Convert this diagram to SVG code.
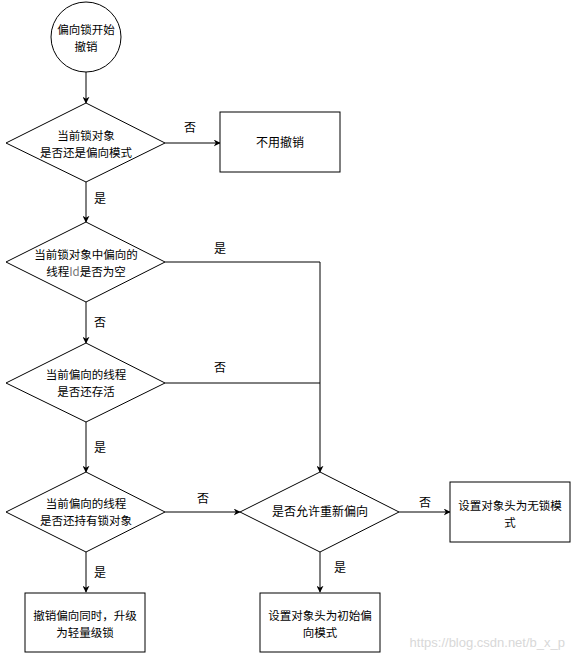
<svg xmlns="http://www.w3.org/2000/svg" width="575" height="660" viewBox="0 0 575 660">
<defs>
<marker id="arr" viewBox="0 0 10 10" refX="9" refY="5" markerWidth="7" markerHeight="7" markerUnits="userSpaceOnUse" orient="auto">
<path d="M0,0 L10,5 L0,10 L3,5 Z" fill="#000"/>
</marker>
</defs>
<style>
.s{fill:#fff;stroke:#000;stroke-width:1}
.t{font-family:"Noto Sans CJK SC","Liberation Sans",sans-serif;font-size:11.5px;fill:#000;text-anchor:middle}
.l{font-family:"Noto Sans CJK SC","Liberation Sans",sans-serif;font-size:12px;fill:#000;text-anchor:middle}
.c{fill:none;stroke:#000;stroke-width:1}
.a{fill:none;stroke:#000;stroke-width:1;marker-end:url(#arr)}
</style>
<rect width="575" height="660" fill="#fff"/>
<g id="connectors">
<line class="a" x1="86" y1="72" x2="86" y2="103"/>
<line class="a" x1="165" y1="143" x2="220" y2="143"/>
<line class="a" x1="86" y1="182" x2="86" y2="222"/>
<polyline class="c" points="165,262 320,262 320,383"/>
<line class="a" x1="86" y1="302" x2="86" y2="343"/>
<line class="c" x1="165" y1="383" x2="320" y2="383"/>
<line class="a" x1="320" y1="383" x2="320" y2="472"/>
<line class="a" x1="86" y1="422" x2="86" y2="472"/>
<line class="a" x1="165" y1="512" x2="240" y2="512"/>
<line class="a" x1="399" y1="512" x2="450" y2="512"/>
<line class="a" x1="86" y1="552" x2="86" y2="592"/>
<line class="a" x1="320" y1="552" x2="320" y2="592"/>
<text class="l" x="190" y="132">否</text>
<text class="l" x="100" y="203">是</text>
<text class="l" x="220" y="253">是</text>
<text class="l" x="100" y="327">否</text>
<text class="l" x="220" y="372">否</text>
<text class="l" x="100" y="452">是</text>
<text class="l" x="203" y="503">否</text>
<text class="l" x="425" y="507">否</text>
<text class="l" x="100" y="577">是</text>
<text class="l" x="340" y="572">是</text>
</g>
<g id="start">
<circle class="s" cx="86" cy="37" r="35"/>
<text class="t" x="86" y="34">偏向锁开始<tspan x="86" dy="17">撤销</tspan></text>
</g>
<g id="d1">
<polygon class="s" points="86,103 165,143 86,182 6,143"/>
<text class="t" x="86" y="140">当前锁对象<tspan x="86" dy="17">是否还是偏向模式</tspan></text>
</g>
<g id="r1">
<rect class="s" x="220" y="112" width="120" height="60"/>
<text class="l" x="280" y="147">不用撤销</text>
</g>
<g id="d2">
<polygon class="s" points="86,222 165,262 86,302 6,262"/>
<text class="t" x="86" y="259">当前锁对象中偏向的<tspan x="86" dy="17">线程</tspan><tspan fill="#777">Id</tspan><tspan>是否为空</tspan></text>
</g>
<g id="d3">
<polygon class="s" points="86,343 165,383 86,422 6,383"/>
<text class="t" x="86" y="379">当前偏向的线程<tspan x="86" dy="17">是否还存活</tspan></text>
</g>
<g id="d4">
<polygon class="s" points="86,472 165,512 86,552 6,512"/>
<text class="t" x="86" y="508">当前偏向的线程<tspan x="86" dy="17">是否还持有锁对象</tspan></text>
</g>
<g id="d5">
<polygon class="s" points="320,472 399,512 320,552 240,512"/>
<text class="l" x="320" y="516">是否允许重新偏向</text>
</g>
<g id="r2">
<rect class="s" x="450" y="482" width="120" height="60"/>
<text class="t" x="510" y="510">设置对象头为无锁模<tspan x="510" dy="17">式</tspan></text>
</g>
<g id="r3">
<rect class="s" x="25" y="593" width="120" height="59"/>
<text class="t" x="85" y="620">撤销偏向同时，升级<tspan x="85" dy="17">为轻量级锁</tspan></text>
</g>
<g id="r4">
<rect class="s" x="260" y="593" width="120" height="59"/>
<text class="t" x="320" y="620">设置对象头为初始偏<tspan x="320" dy="17">向模式</tspan></text>
</g>
<text x="565" y="647" font-family="'Liberation Sans',sans-serif" font-size="13" fill="#d8d8d8" text-anchor="end">https://blog.csdn.net/b_x_p</text>
</svg>
